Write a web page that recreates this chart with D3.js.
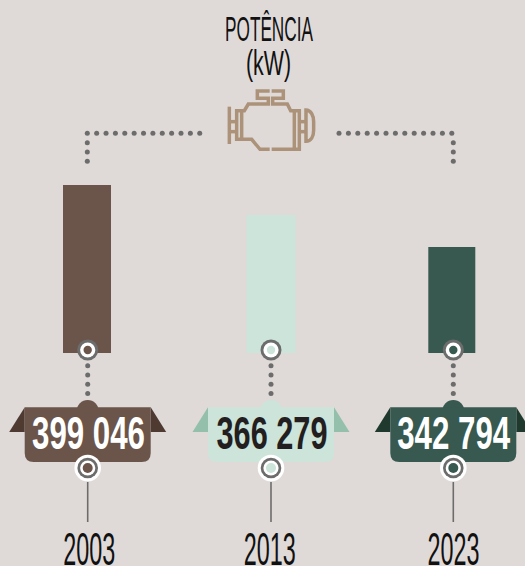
<!DOCTYPE html>
<html><head><meta charset="utf-8">
<script src="https://cdnjs.cloudflare.com/ajax/libs/d3/7.8.5/d3.min.js"></script>
<style>html,body{margin:0;padding:0;background:#dfdad8;overflow:hidden}svg{display:block}text{font-family:"Liberation Sans",sans-serif}</style>
</head><body><svg id="c" width="525" height="566"></svg>
<script>
const years = ["2003","2013","2023"];
const values = [399046,366279,342794];
const valueLabels = ["399 046","366 279","342 794"];
const barColors = ["#6b544a","#cce4d9","#37594f"];
const wingColors = ["#4f3a32","#94bfaa","#20392f"];
const valueText = ["#ffffff","#231f20","#ffffff"];
const titleLines = ["POTÊNCIA","(kW)"];

const svg = d3.select("#c");
const grey = "#6d6c6c";
const x = d3.scaleOrdinal().domain(years).range([87.7,271,453.3]);
const barW = d3.scaleOrdinal().domain(years).range([48,49,47]);
const y = d3.scaleLinear().domain([342794,366279,399046]).range([247,215,185]);
const base = 353;

// condensed text: real text squeezed horizontally to a measured width
function squeezed(parent,str,cx,by,size,weight,fill,w){
  const t = parent.append("text").attr("text-anchor","middle").attr("font-size",size)
    .attr("font-weight",weight).attr("fill",fill).text(str);
  const sx = w/t.node().getComputedTextLength();
  t.attr("transform",`translate(${cx},${by}) scale(${sx},1)`);
  return t;
}

// title
squeezed(svg,titleLines[0],269,40.7,35,400,"#111",88);
squeezed(svg,titleLines[1],268.5,74.5,35,400,"#111",45);

// dotted connectors
function dots(g,pts){g.selectAll(null).data(pts).join("circle").attr("cx",d=>d[0]).attr("cy",d=>d[1]).attr("r",2.5).attr("fill",grey);}
const topL = d3.range(13).map(i=>[87.3+i*9.37,133.3]).concat(d3.range(1,4).map(i=>[87.3,133.3+i*9.33]));
const topR = d3.range(13).map(i=>[339+i*9.4,133.3]).concat(d3.range(1,4).map(i=>[453.3,133.3+i*9.33]));
dots(svg.append("g"),topL.concat(topR));

// engine icon
const eng = svg.append("g").attr("transform","translate(200,80) scale(0.3333)")
  .attr("fill","none").attr("stroke","#ab9279").attr("stroke-width",10.5).attr("stroke-linejoin","miter");
["M209,33H172V55H205V72H145L133,92H110V178H155L180,208H209",
 "M215,33H250V55H218V72H262L272,92H298V208H215",
 "M125,92V178","M283,92V208","M88,80V192","M88,125H110","M88,155H110",
 "M298,125H320","M298,155H320","M318,90C333,90 341,108 341,125V150C341,170 333,184 318,184Z"
].forEach(d=>eng.append("path").attr("d",d));

const yearX = [89.2,269.7,453.5];
const valX = [88.5,272,453.7];
years.forEach((yr,i)=>{
  const cx = x(yr), g = svg.append("g");
  // bar
  g.append("rect").attr("x",cx-barW(yr)/2+(i==2?-1.5:0)-(i==0?0.7:0)).attr("width",barW(yr))
    .attr("y",y(values[i])).attr("height",base-y(values[i])).attr("fill",barColors[i]);
  // ring on bar
  [[10.5,grey],[7.6,"#fff"],[4.2,barColors[i]]].forEach(([r,f])=>
    g.append("circle").attr("cx",cx).attr("cy",350).attr("r",r).attr("fill",f));
  dots(g,d3.range(4).map(k=>[cx,365.7+k*9.3]));
  // flag label
  const l=cx-63, r=cx+63, t=407.3, m=432, b=462;
  g.append("path").attr("d",`M${l},${t}L${l-15.5},${m}H${l}Z`).attr("fill",wingColors[i]);
  g.append("path").attr("d",`M${r},${t}L${r+15.5},${m}H${r}Z`).attr("fill",wingColors[i]);
  g.append("circle").attr("cx",cx).attr("cy",411).attr("r",11).attr("fill",barColors[i]);
  g.append("path").attr("d",`M${l},${t}H${r}V${b-9}Q${r},${b} ${r-9},${b}H${l+9}Q${l},${b} ${l},${b-9}Z`).attr("fill",barColors[i]);
  squeezed(g,valueLabels[i],valX[i],448.5,46,700,valueText[i],i==1?111:113);
  // lower ring
  [[13.3,"#fff"],[10.3,grey],[7.6,"#fff"],[5,barColors[i]]].forEach(([rr,f])=>
    g.append("circle").attr("cx",cx).attr("cy",468).attr("r",rr).attr("fill",f));
  g.append("line").attr("x1",cx).attr("x2",cx).attr("y1",482).attr("y2",522).attr("stroke",grey).attr("stroke-width",1.6);
  // year
  squeezed(g,yr,yearX[i],565,46,400,"#111",52);
});
</script></body></html>
